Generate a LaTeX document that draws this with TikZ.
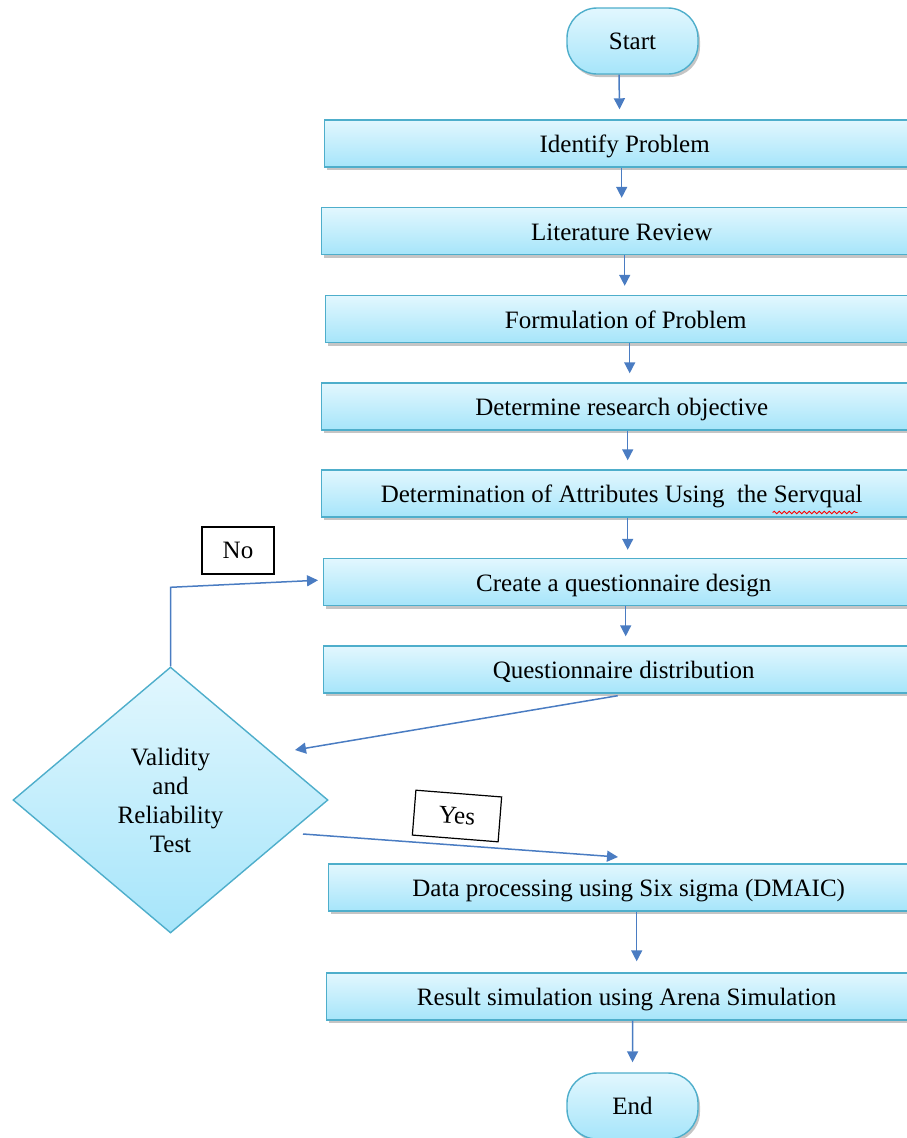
\documentclass[tikz,border=0pt]{standalone}
\usepackage{fontspec}
\setmainfont{Liberation Serif}
\usetikzlibrary{arrows.meta,shapes.geometric,shadows,calc,decorations.pathmorphing}
\definecolor{boxtop}{HTML}{E2F7FE}
\definecolor{boxbot}{HTML}{A6E5FA}
\definecolor{boxline}{HTML}{4EAECB}
\definecolor{arrowblue}{HTML}{4A7CC2}
\tikzset{
  txt/.style={font=\fontsize{25}{29}\selectfont},
  shade/.style={top color=boxtop, bottom color=boxbot, draw=boxline, line width=1.4pt},
  stepbox/.style={shade, txt, minimum width=600pt, minimum height=47pt, anchor=west, inner sep=0pt,
    text height=22pt, text depth=4pt,
    drop shadow={shadow xshift=2pt, shadow yshift=-3pt, fill=black!45, opacity=0.5}},
  term/.style={shade, txt, minimum width=131pt, minimum height=66pt, rounded corners=30pt, inner sep=0pt,
    drop shadow={shadow xshift=2pt, shadow yshift=-3pt, fill=black!45, opacity=0.5}},
  decision/.style={shade, txt, diamond, minimum width=315pt, minimum height=266pt, inner sep=0pt, align=center},
  lbl/.style={draw=black, line width=1.2pt, fill=white, txt, minimum width=72pt, minimum height=47pt, inner sep=0pt},
  arr/.style={draw=arrowblue, line width=1.5pt, -{Triangle[width=11pt,length=11pt]}},
}
\begin{document}
\begin{tikzpicture}[x=1pt,y=-1pt]
\useasboundingbox (0,0) rectangle (907,1138);
\node[term] (start) at (632.5,41) {Start};
\node[stepbox] (b1) at (324,143.5) {Identify Problem};
\node[stepbox] (b2) at (321,231) {Literature Review};
\node[stepbox] (b3) at (325,319) {Formulation of Problem};
\node[stepbox] (b4) at (321,406.5) {Determine research objective};
\node[stepbox] (b5) at (321,493.5) {Determination of Attributes Using\ \ the Servqual};
\node[stepbox] (b6) at (323,582) {Create a questionnaire design};
\node[stepbox] (b7) at (323,669.5) {Questionnaire distribution};
\node[decision] (dia) at (170.5,800) {Validity\\and\\Reliability\\Test};
\node[stepbox] (b8) at (328,887.5) {Data processing using Six sigma (DMAIC)};
\node[stepbox] (b9) at (326,996.5) {Result simulation using Arena Simulation};
\node[term] (end) at (632.5,1106) {End};
\node[lbl] (no) at (238,550.5) {No};
\node[lbl, minimum width=86pt, minimum height=45pt, rotate=-4.5] (yes) at (457,816) {Yes};
% spell-check underline
\draw[red, line width=0.8pt, decorate, decoration={snake, amplitude=1.3pt, segment length=5pt}]
  ($(b5.center)+(151,19)$) -- ($(b5.center)+(236,19)$);
% connectors
\draw[arr, shorten >=10pt] ([xshift=-13.5pt]start.south) -- ([xshift=-5pt]b1.north);
\draw[arr, shorten >=9pt] ([xshift=-3pt]b1.south) -- ([xshift=0pt]b2.north);
\draw[arr, shorten >=9pt] ([xshift=3pt]b2.south) -- ([xshift=-1pt]b3.north);
\draw[arr, shorten >=9pt] ([xshift=4pt]b3.south) -- ([xshift=8pt]b4.north);
\draw[arr, shorten >=9pt] ([xshift=6pt]b4.south) -- ([xshift=6pt]b5.north);
\draw[arr, shorten >=8pt] ([xshift=6pt]b5.south) -- ([xshift=4pt]b6.north);
\draw[arr, shorten >=9pt] ([xshift=2pt]b6.south) -- ([xshift=2pt]b7.north);
\coordinate (dtip) at (295,750);
\draw[arr] ([xshift=-6pt,yshift=-2pt]b7.south) -- (dtip);
\draw[arr, shorten >=5pt] (dia.north) -- ++(0,-79) -- ([yshift=2pt]b6.west);
\coordinate (ystart) at (303,834);
\coordinate (yend) at (618,857);
\draw[arr] (ystart) -- (yend);
\draw[arr, shorten >=11pt] ([xshift=8pt]b8.south) -- ([xshift=10pt]b9.north);
\draw[arr, shorten >=10pt] ([xshift=6pt]b9.south) -- ([xshift=0pt]end.north);
\end{tikzpicture}
\end{document}
